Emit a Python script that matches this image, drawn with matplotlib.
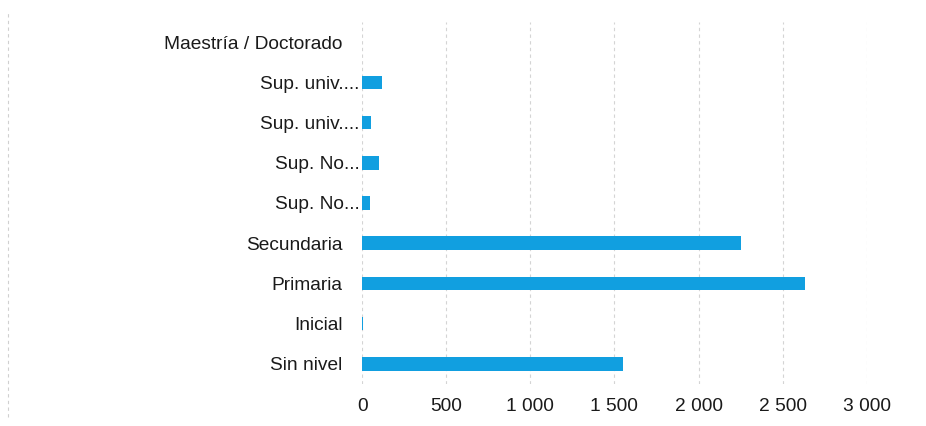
import matplotlib
matplotlib.use("Agg")
import matplotlib.pyplot as plt
import matplotlib.transforms as mtransforms
from matplotlib.lines import Line2D

plt.rcParams['font.family'] = ['Liberation Sans', 'DejaVu Sans']

# Nivel educativo (de abajo hacia arriba)
categorias = ["Sin nivel", "Inicial", "Primaria", "Secundaria", "Sup. No...",
              "Sup. No...", "Sup. univ....", "Sup. univ....", "Maestría / Doctorado"]
valores = [1554, 8, 2631, 2250, 46, 101, 52, 117, 0]
ticks_x = [0, 500, 1000, 1500, 2000, 2500, 3000]
etiquetas_x = ["0", "500", "1 000", "1 500", "2 000", "2 500", "3 000"]

color_barra = "#119fe0"

fig = plt.figure(figsize=(9.26, 4.26), dpi=100)
ax = fig.add_axes([0.391, 0.099, 0.545, 0.849])

y = list(range(len(categorias)))
ax.barh(y, valores, height=0.34, color=color_barra, edgecolor="none", zorder=3)

ax.set_xlim(0, 3000)
ax.set_ylim(-0.5, len(categorias) - 0.5)
ax.set_xticks(ticks_x)
ax.set_xticklabels(etiquetas_x)
ax.set_yticks(y)
ax.set_yticklabels(categorias)

ax.tick_params(axis="both", length=0, labelsize=13.8, colors="#1a1a1a")
ax.tick_params(axis="y", pad=14)
ax.tick_params(axis="x", pad=10)

# etiquetas truncadas quedan más cerca del eje
for lbl in ax.get_yticklabels():
    if lbl.get_text().endswith("..."):
        lbl.set_transform(lbl.get_transform() + mtransforms.ScaledTranslation(17 / 100, 0, fig.dpi_scale_trans))

for s in ax.spines.values():
    s.set_visible(False)

ax.grid(axis="x", color="#d4d4d4", linestyle=(0, (3, 3)), linewidth=0.8, zorder=0)
ax.grid(axis="y", visible=False)

# borde izquierdo del marco
fig.add_artist(Line2D([0.009, 0.009], [0.02, 0.97], transform=fig.transFigure,
                      color="#d0d0d0", linestyle=(0, (3, 3)), linewidth=0.8))

fig.savefig("out.png", dpi=100)
